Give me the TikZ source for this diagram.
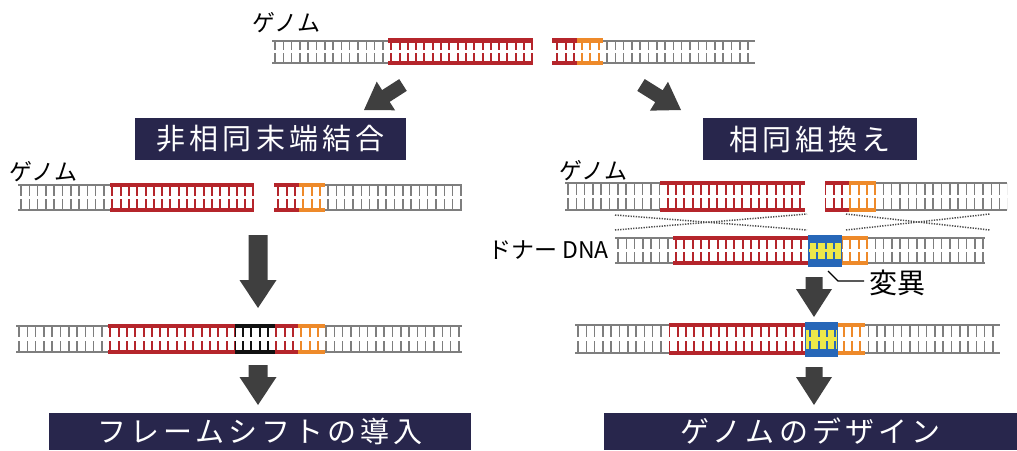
\documentclass[tikz,border=0pt]{standalone}
\usepackage{fontspec}
\setmainfont{Noto Sans CJK JP}
\newfontfamily\boxfont[LetterSpace=14]{Noto Sans CJK JP}
\usetikzlibrary{calc}

\definecolor{dnagrey}{HTML}{7E7E7E}
\definecolor{dnared}{HTML}{B5252B}
\definecolor{dnaorange}{HTML}{EE8A2A}
\definecolor{dnablack}{HTML}{111111}
\definecolor{dnablue}{HTML}{2767B8}
\definecolor{dnayellow}{HTML}{EDE84A}
\definecolor{boxnavy}{HTML}{28264C}
\definecolor{arrowgrey}{HTML}{3F3F3F}

\tikzset{
  grey rail/.style={draw=dnagrey, line width=2pt},
  grey tick/.style={draw=dnagrey, line width=1.5pt},
  red rail/.style={draw=dnared, line width=4.5pt},
  red tick/.style={draw=dnared, line width=2pt},
  orange rail/.style={draw=dnaorange, line width=4.5pt},
  orange tick/.style={draw=dnaorange, line width=2pt},
  black rail/.style={draw=dnablack, line width=4.5pt},
  black tick/.style={draw=dnablack, line width=2pt},
  blue rail/.style={draw=dnablue, line width=4.5pt},
  blue tick/.style={draw=dnablue, line width=2pt},
  titlebox/.style={fill=boxnavy, text=white, inner sep=0pt,
    font=\boxfont\fontsize{29}{32}\selectfont},
  genomelabel/.style={inner sep=0pt, anchor=west,
    font=\fontsize{23}{26}\selectfont},
  plainlabel/.style={inner sep=0pt, font=\fontsize{23}{26}\selectfont},
  crossover/.style={draw=black!70, line width=1.5pt, dash pattern=on 1.3pt off 1.3pt},
  leader/.style={draw=black, line width=1.2pt},
  blockfill/.style={fill=arrowgrey},
}

% One stretch of double helix: grid origin, from x, to x, upper rail y, lower rail y, colour set
\newcommand\helixpart[6]{%
  \begin{scope}
    \clip (#2,#4-4) rectangle (#3,#5+4);
    \foreach \k in {0,...,62}{
      \pgfmathsetmacro\tx{#1+3+8.3*\k}
      \draw[#6 tick] (\tx,#4) -- (\tx,{(#4+#5)/2-1.6});
      \draw[#6 tick] (\tx,#5) -- (\tx,{(#4+#5)/2+1.6});
    }
  \end{scope}
  \draw[#6 rail] (#2,#4) -- (#3,#4) (#2,#5) -- (#3,#5);
}

% Mutated block: blue frame with a yellow core
\newcommand\mutblock[5]{%
  \fill[dnablue] (#2,#4-3.5) rectangle (#3,#5+3.5);
  \fill[dnayellow] (#2+1,#4+4.5) rectangle (#3-1,#5-4.5);
  \begin{scope}
    \clip (#2,#4) rectangle (#3,#5);
    \foreach \k in {0,...,62}{
      \pgfmathsetmacro\tx{#1+3+8.3*\k}
      \draw[blue tick] (\tx,#4) -- (\tx,{(#4+#5)/2-1.6});
      \draw[blue tick] (\tx,#5) -- (\tx,{(#4+#5)/2+1.6});
    }
  \end{scope}
}

% Block arrow between two named coordinates: tail, tip, shaft half width, head half width, head length
\newcommand\blockarrow[5]{%
  \coordinate (hb) at ($(#2)!#5!(#1)$);
  \fill[blockfill] ($(#1)!#3!90:(#2)$) -- ($(hb)!#3!90:(#2)$) -- ($(hb)!#4!90:(#2)$)
    -- (#2) -- ($(hb)!#4!-90:(#2)$) -- ($(hb)!#3!-90:(#2)$) -- ($(#1)!#3!-90:(#2)$) -- cycle;
}

\begin{document}
\begin{tikzpicture}[x=1pt,y=-1pt]
\useasboundingbox (0,0) rectangle (1017,450);

% ---- starting genome with a double-strand break ----
\node[genomelabel] (g0) at (252,23) {ゲノム};
\helixpart{272}{272}{533}{40.5}{63}{grey}
\helixpart{272}{552}{755}{40.5}{63}{grey}
\helixpart{272}{388}{533}{40.5}{63}{red}
\helixpart{272}{552}{577}{40.5}{63}{red}
\helixpart{272}{577}{603}{40.5}{63}{orange}

% ---- pathway titles ----
\node[titlebox, minimum width=271pt, minimum height=42pt] (nhej) at (270.5,139) {非相同末端結合};
\node[titlebox, minimum width=214pt, minimum height=42pt] (hr) at (810,139) {相同組換え};

\coordinate (dl0) at (403,85);
\coordinate (dl1) at (364,110);
\coordinate (dr0) at (641,85);
\coordinate (dr1) at (681,110);
\blockarrow{dl0}{dl1}{7pt}{17pt}{26pt}
\blockarrow{dr0}{dr1}{7pt}{17pt}{26pt}

% ---- non-homologous end joining ----
\node[genomelabel] (g1) at (9,171.5) {ゲノム};
\helixpart{18}{18}{254}{185}{210}{grey}
\helixpart{18}{274}{462}{185}{210}{grey}
\helixpart{18}{110}{254}{185}{210}{red}
\helixpart{18}{274}{299}{185}{210}{red}
\helixpart{18}{299}{325}{185}{210}{orange}

\coordinate (la0) at (258,235);
\coordinate (la1) at (258,308);
\blockarrow{la0}{la1}{9.5pt}{18.5pt}{28pt}

\helixpart{16}{16}{462}{326}{352}{grey}
\helixpart{16}{108}{235}{326}{352}{red}
\helixpart{16}{235}{275}{326}{352}{black}
\helixpart{16}{275}{298}{326}{352}{red}
\helixpart{16}{298}{325}{326}{352}{orange}

\coordinate (lb0) at (258,365);
\coordinate (lb1) at (258,405);
\blockarrow{lb0}{lb1}{9.5pt}{18.5pt}{28pt}

\node[titlebox, minimum width=422pt, minimum height=37pt] (frameshift) at (260,431.5) {フレームシフトの導入};

% ---- homologous recombination ----
\node[genomelabel] (g2) at (559,170.5) {ゲノム};
\helixpart{565}{565}{805}{183}{210}{grey}
\helixpart{565}{825}{1007}{183}{210}{grey}
\helixpart{565}{660}{805}{183}{210}{red}
\helixpart{565}{825}{849}{183}{210}{red}
\helixpart{565}{849}{876}{183}{210}{orange}

\draw[crossover] (615,215) -- (807,230);
\draw[crossover] (615,230) -- (807,214);
\draw[crossover] (846,214) -- (990,230);
\draw[crossover] (846,230) -- (990,214);

\node[plainlabel, anchor=east] (donor) at (609,250.5) {ドナー DNA};
\helixpart{615}{615}{985}{238}{263}{grey}
\helixpart{615}{673}{808}{238}{263}{red}
\helixpart{615}{842}{868}{238}{263}{orange}
\mutblock{615}{808}{842}{238}{263}

\node[inner sep=0pt, anchor=west, font=\fontsize{28}{30}\selectfont] (mut) at (869,283) {変異};
\coordinate (mutpt) at (828,271);
\draw[leader] (mutpt) -- ++(10,10) -- ($(mut.west)+(-5,-2)$);

\coordinate (ra0) at (814,277);
\coordinate (ra1) at (814,317);
\blockarrow{ra0}{ra1}{8.5pt}{18pt}{28pt}

\helixpart{575}{575}{1000}{325}{353}{grey}
\helixpart{575}{669}{805}{325}{353}{red}
\helixpart{575}{838}{865}{325}{353}{orange}
\mutblock{575}{805}{838}{325}{353}

\coordinate (rb0) at (814,367);
\coordinate (rb1) at (814,405);
\blockarrow{rb0}{rb1}{8.5pt}{18pt}{28pt}

\node[titlebox, minimum width=413pt, minimum height=37pt] (design) at (810.5,431.5) {ゲノムのデザイン};
\end{tikzpicture}
\end{document}
